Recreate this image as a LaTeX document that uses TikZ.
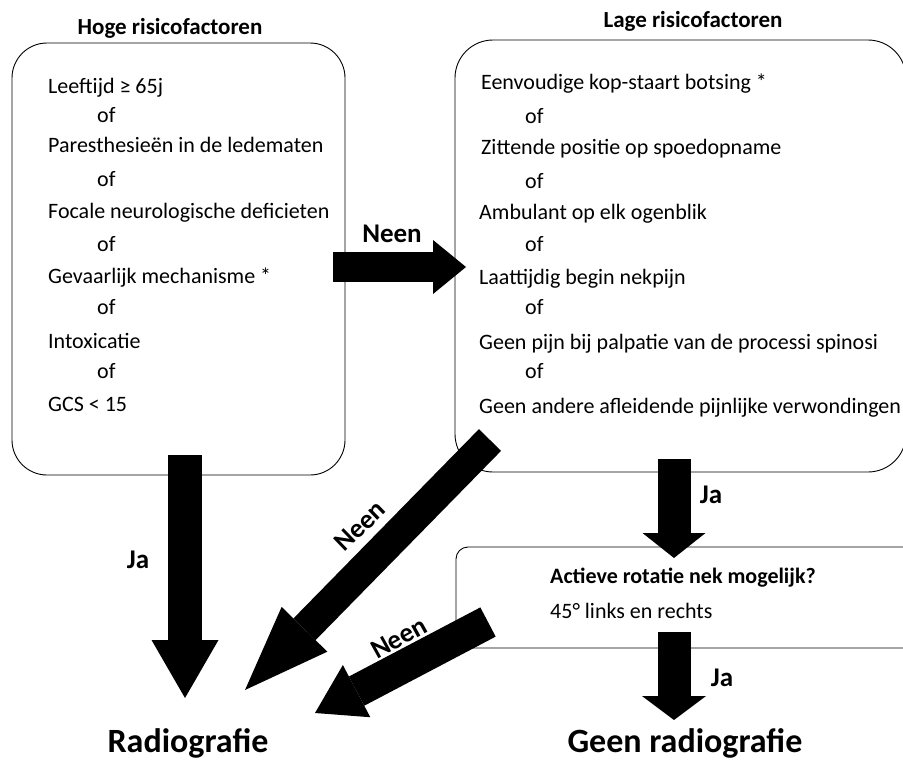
\documentclass[tikz,border=0pt]{standalone}
\usepackage{fontspec}
\setmainfont{Carlito}
\usetikzlibrary{arrows.meta}
\begin{document}
\begin{tikzpicture}[x=1pt,y=-1pt,
  box/.style={draw=black, line width=0.9pt, inner sep=0pt},
  txt/.style={font=\fontsize{22}{26}\selectfont, anchor=base west, inner sep=0pt},
  ttl/.style={font=\bfseries\fontsize{23}{28}\selectfont, anchor=base, inner sep=0pt},
  lbl/.style={font=\bfseries\fontsize{27}{32}\selectfont, inner sep=0pt},
  res/.style={font=\bfseries\fontsize{34}{40}\selectfont, anchor=base, inner sep=0pt},
  fat/.style n args={3}{draw=black, line width=#1, -{Triangle[width=#2, length=#3, line width'=0pt]}}
]
\useasboundingbox (0,0) rectangle (903,760);
\fill[white] (0,0) rectangle (903,760);
\clip (0,0) rectangle (903,760);

% boxes
\node[box, rounded corners=35pt, minimum width=333pt, minimum height=432pt] (hoog) at (178.5,259) {};
\node[box, rounded corners=38pt, minimum width=451pt, minimum height=432pt] (laag) at (680.5,256) {};
\node[box, rounded corners=12pt, minimum width=484pt, minimum height=101pt] (rot) at (698,597.5) {};

% titles
\node[ttl] (thoog) at (170,35) {Hoge risicofactoren};
\node[ttl] (tlaag) at (693,28) {Lage risicofactoren};

% high risk factors
\node[txt] (h1) at (48,93) {Leeftijd ≥ 65j};
\node[txt] (h2) at (97,122) {of};
\node[txt] (h3) at (48,153) {Paresthesieën in de ledematen};
\node[txt] (h4) at (97,186) {of};
\node[txt] (h5) at (48,218) {Focale neurologische deficieten};
\node[txt] (h6) at (97,251) {of};
\node[txt] (h7) at (48,283) {Gevaarlijk mechanisme *};
\node[txt] (h8) at (97,314) {of};
\node[txt] (h9) at (48,348) {Intoxicatie};
\node[txt] (h10) at (97,378) {of};
\node[txt] (h11) at (48,411) {GCS < 15};

% low risk factors
\node[txt] (l1) at (481,89) {Eenvoudige kop-staart botsing *};
\node[txt] (l2) at (525,123) {of};
\node[txt] (l3) at (481,154) {Zittende positie op spoedopname};
\node[txt] (l4) at (525,188) {of};
\node[txt] (l5) at (479,219) {Ambulant op elk ogenblik};
\node[txt] (l6) at (525,251) {of};
\node[txt] (l7) at (479,284) {Laattijdig begin nekpijn};
\node[txt] (l8) at (525,314) {of};
\node[txt] (l9) at (479,349) {Geen pijn bij palpatie van de processi spinosi};
\node[txt] (l10) at (525,378) {of};
\node[txt] (l11) at (479,413) {Geen andere afleidende pijnlijke verwondingen};

% rotation box text
\node[txt, font=\bfseries\fontsize{22}{26}\selectfont] (r1) at (550,583) {Actieve rotatie nek mogelijk?};
\node[txt] (r2) at (550,618) {45° links en rechts};

% results
\node[res] (radio) at (188,752) {Radiografie};
\node[res] (geen) at (685,752) {Geen radiografie};

% arrows
\coordinate (aS) at (185,455);  \coordinate (aE) at (185,698);
\coordinate (bS) at (333,267);  \coordinate (bE) at (466,267);
\coordinate (cS) at (490,440);  \coordinate (cE) at (245,690);
\coordinate (dS) at (488,622);  \coordinate (dE) at (315,713);
\coordinate (eS) at (674,459);  \coordinate (eE) at (674,558);
\coordinate (fS) at (674,632);  \coordinate (fE) at (674,720);

\draw[fat={34pt}{67pt}{58pt}] (aS) -- (aE);
\draw[fat={30pt}{54pt}{33pt}] (bS) -- (bE);
\draw[fat={31pt}{64pt}{85pt}] (cS) -- (cE);
\draw[fat={33pt}{59pt}{47pt}] (dS) -- (dE);
\draw[fat={33pt}{63pt}{25pt}] (eS) -- (eE);
\draw[fat={33pt}{64pt}{24pt}] (fS) -- (fE);

% arrow labels
\node[lbl, anchor=base] (nb) at (392,242) {Neen};
\node[lbl] (ja1) at (138,560) {Ja};
\node[lbl, rotate=44] (nc) at (360,526) {Neen};
\node[lbl, rotate=29] (nd) at (399,638) {Neen};
\node[lbl] (ja2) at (711,495) {Ja};
\node[lbl] (ja3) at (722,678) {Ja};
\end{tikzpicture}
\end{document}
